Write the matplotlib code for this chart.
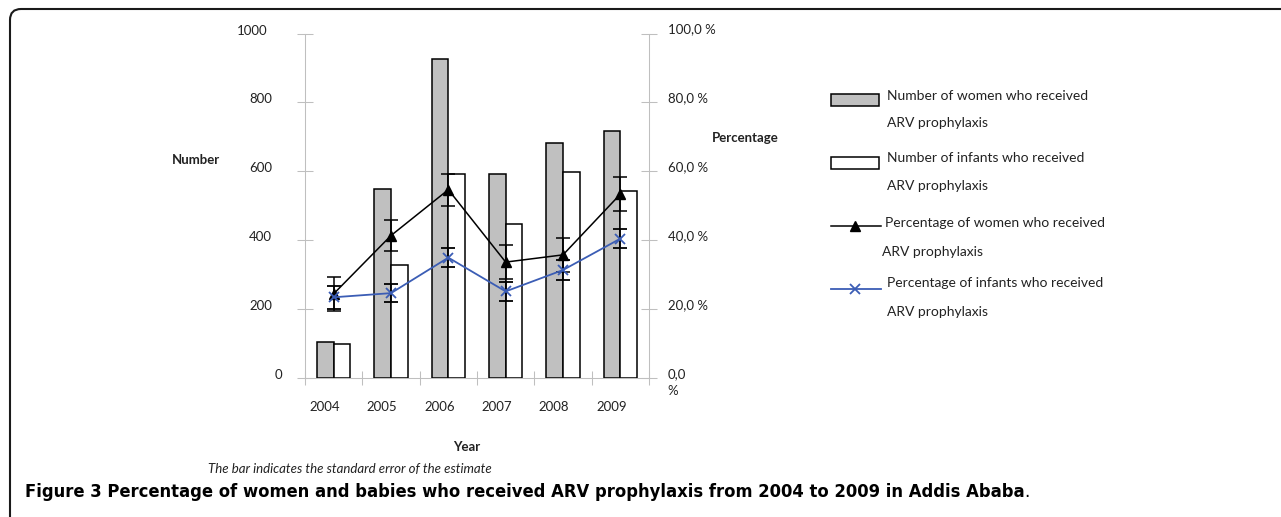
import matplotlib
matplotlib.use("Agg")
import matplotlib.pyplot as plt
import matplotlib.transforms as mtransforms
from matplotlib.patches import Rectangle, PathPatch
from matplotlib.path import Path
from matplotlib.lines import Line2D
import numpy as np

years = ["2004", "2005", "2006", "2007", "2008", "2009"]
women_n = [106, 549, 927, 593, 682, 717]
infants_n = [99, 328, 593, 447, 598, 544]
women_pct = [24.5, 41.4, 54.7, 33.7, 35.8, 53.4]
women_se = [5.0, 4.6, 4.6, 4.95, 4.9, 4.95]
infants_pct = [23.5, 24.7, 35.0, 25.2, 31.4, 40.5]
infants_se = [3.4, 2.7, 2.65, 2.65, 2.9, 2.75]
count_ticks = [0, 200, 400, 600, 800, 1000]
pct_ticks = [0, 20, 40, 60, 80, 100]

W, H = 1281, 517
FONT = ["Lato", "DejaVu Sans"]
CAP_FONT = ["DejaVu Sans", "Open Sans"]
GRID = "#bfbfbf"
BLUE = "#3b5db5"

fig = plt.figure(figsize=(W / 100, H / 100), dpi=100)


def fx(px):
    return px / W


def fy(py):
    return 1 - py / H


def shift(dx, dy):
    # offset in pixels
    return mtransforms.ScaledTranslation(dx / 100, dy / 100, fig.dpi_scale_trans)


ax = fig.add_axes([fx(305), fy(378.3), fx(649) - fx(305), (378.3 - 33.5) / H])
ax2 = ax.twinx()

x = np.arange(len(years))
bw = 0.29
ax.bar(x - bw / 2, women_n, bw, color="#c0c0c0", edgecolor="black", lw=1.1)
ax.bar(x + bw / 2, infants_n, bw, color="white", edgecolor="black", lw=1.1)
ax.set_xlim(-0.5, len(years) - 0.5)
ax.set_ylim(0, 1000)
ax2.set_ylim(0, 100)

ax2.errorbar(x, women_pct, yerr=women_se, color="black", marker="^", ms=7,
             lw=1.1, ecolor="black", elinewidth=1.1, capsize=4.7, capthick=1.1)
ax2.errorbar(x, infants_pct, yerr=infants_se, color=BLUE, marker="x", ms=7,
             mew=1.3, lw=1.3, ecolor="black", elinewidth=1.1, capsize=4.7,
             capthick=1.1)

# spines
for s in ["top", "right"]:
    ax.spines[s].set_visible(False)
for s in ["top", "left", "bottom"]:
    ax2.spines[s].set_visible(False)
for sp in [ax.spines["left"], ax.spines["bottom"], ax2.spines["right"]]:
    sp.set_color(GRID)
    sp.set_linewidth(0.75)

# ticks
ax.set_yticks(count_ticks)
ax.tick_params(axis="y", direction="inout", length=11, color=GRID, width=0.75,
               labelleft=False)
ax2.set_yticks(pct_ticks)
ax2.tick_params(axis="y", direction="inout", length=11, color=GRID, width=0.75,
                labelright=False)
ax.set_xticks(np.arange(-0.5, len(years), 1))
ax.set_xticklabels([])
ax.tick_params(axis="x", which="major", direction="inout", length=9.6,
               color=GRID, width=0.75)
ax.set_xticks(x, minor=True)
ax.set_xticklabels(years, minor=True, fontsize=9.5, family=FONT, color="#222222")
ax.tick_params(axis="x", which="minor", length=0, pad=16)
for lab in ax.get_xticklabels(minor=True):
    lab.set_transform(lab.get_transform() + shift(-9, 0))

# left tick labels
tl = mtransforms.blended_transform_factory(fig.transFigure, ax.transData)
for v in count_ticks:
    dx = {0: 10, 1000: -5}.get(v, 0)
    ax.text(fx(272), v, str(v), transform=tl + shift(dx, 3), ha="right",
            va="center", fontsize=9.5, family=FONT, color="#222222")

# right tick labels
tr = mtransforms.blended_transform_factory(fig.transFigure, ax2.transData)
for v in pct_ticks:
    if v == 0:
        ax2.text(fx(667.7), v, "0,0\n%", transform=tr + shift(0, 10), ha="left",
                 va="top", fontsize=9.5, family=FONT, color="#222222",
                 linespacing=1.45)
    else:
        ax2.text(fx(667.7), v, f"{v:.1f} %".replace(".", ","),
                 transform=tr + shift(0, 4), ha="left", va="center",
                 fontsize=9.5, family=FONT, color="#222222")

# axis titles
fig.text(fx(172), fy(160), "Number", fontsize=9.5, weight="bold", family=FONT,
         va="center", color="#222222")
fig.text(fx(711.7), fy(138.3), "Percentage", fontsize=9.5, weight="bold",
         family=FONT, va="center", color="#222222")
fig.text(fx(466.7), fy(446.7), "Year", fontsize=9.5, weight="bold", family=FONT,
         va="center", ha="center", color="#222222")
fig.text(fx(208), fy(468.5), "The bar indicates the standard error of the estimate",
         fontsize=9.5, style="italic", family=FONT, va="center", color="#222222")

# legend
def legend_text(px, py, s):
    fig.text(fx(px), fy(py), s, fontsize=10, family=FONT, va="center",
             color="#222222")

fig.patches.append(Rectangle((fx(830.7), fy(106)), fx(879.3) - fx(830.7), 12 / H,
                             transform=fig.transFigure, facecolor="#c0c0c0",
                             edgecolor="black", lw=1.1))
legend_text(886.7, 95.7, "Number of women who received")
legend_text(886.7, 122.7, "ARV prophylaxis")
fig.patches.append(Rectangle((fx(830.7), fy(169)), fx(879.3) - fx(830.7), 12.3 / H,
                             transform=fig.transFigure, facecolor="white",
                             edgecolor="black", lw=1.1))
legend_text(886.7, 158.3, "Number of infants who received")
legend_text(886.7, 185.7, "ARV prophylaxis")
fig.lines.append(Line2D([fx(830.7), fx(881)], [fy(226)] * 2, color="black",
                        lw=1.1, transform=fig.transFigure))
fig.lines.append(Line2D([fx(855)], [fy(226)], color="black", marker="^", ms=7,
                        transform=fig.transFigure))
legend_text(885, 223.3, "Percentage of women who received")
legend_text(881.7, 251.7, "ARV prophylaxis")
fig.lines.append(Line2D([fx(830.7), fx(881)], [fy(289)] * 2, color=BLUE,
                        lw=1.3, transform=fig.transFigure))
fig.lines.append(Line2D([fx(855)], [fy(289)], color=BLUE, marker="x", ms=7,
                        mew=1.3, transform=fig.transFigure))
legend_text(886.7, 283.3, "Percentage of infants who received")
legend_text(886.7, 311.7, "ARV prophylaxis")

# frame with rounded top-left corner
r = 11
verts = [(fx(10), fy(H + 5)), (fx(10), fy(9 + r)), (fx(10), fy(9)),
         (fx(10 + r), fy(9)), (fx(W + 5), fy(9))]
codes = [Path.MOVETO, Path.LINETO, Path.CURVE3, Path.CURVE3, Path.LINETO]
fig.patches.append(PathPatch(Path(verts, codes), transform=fig.transFigure,
                             fill=False, edgecolor="#1a1a1a", lw=1.5))

# caption
cap = fig.text(fx(25), fy(491.7),
               "Figure 3 Percentage of women and babies who received ARV "
               "prophylaxis from 2004 to 2009 in Addis Ababa",
               fontsize=16, weight="bold", fontstretch="condensed",
               family=CAP_FONT, va="center", color="black")
fig.canvas.draw()
w = cap.get_window_extent().width
cap.set_fontsize(16 * 1003 / w)
ax.annotate(".", xy=(1, 0), xycoords=cap, ha="left", va="bottom",
            fontsize=cap.get_fontsize(), family=CAP_FONT,
            fontstretch="condensed", annotation_clip=False)

fig.savefig("out.png", dpi=100)
